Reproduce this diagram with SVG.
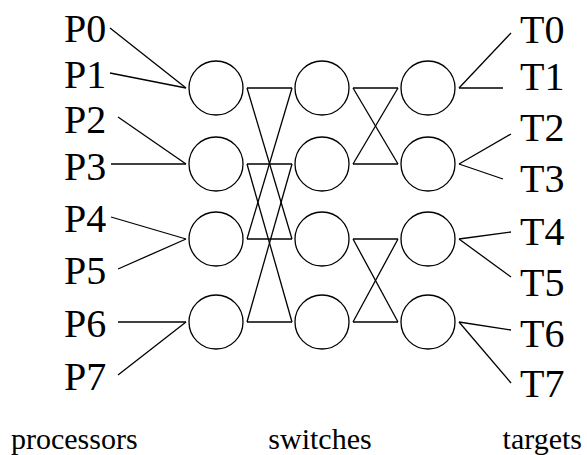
<svg xmlns="http://www.w3.org/2000/svg" width="587" height="455" viewBox="0 0 587 455">
  <style>
    .sw { fill: none; stroke: #000; stroke-width: 1.3; }
    .ln { fill: none; stroke: #000; stroke-width: 1.3; }
  </style>
  <rect width="587" height="455" fill="#fff"/>

  <!-- labels share one serif face -->
  <g font-family="'Liberation Serif', 'Nimbus Roman', 'Noto Serif', 'FreeSerif', 'DejaVu Serif', Times, serif" fill="#000">
    <!-- processor labels -->
    <g id="p0" font-size="40"><text x="64" y="42">P0</text></g>
    <g id="p1" font-size="40"><text x="64" y="88">P1</text></g>
    <g id="p2" font-size="40"><text x="64" y="133">P2</text></g>
    <g id="p3" font-size="40"><text x="64" y="180">P3</text></g>
    <g id="p4" font-size="40"><text x="64" y="232">P4</text></g>
    <g id="p5" font-size="40"><text x="64" y="284">P5</text></g>
    <g id="p6" font-size="40"><text x="64" y="337">P6</text></g>
    <g id="p7" font-size="40"><text x="64" y="390">P7</text></g>

    <!-- target labels -->
    <g id="t0" font-size="40"><text x="520" y="43">T0</text></g>
    <g id="t1" font-size="40"><text x="520" y="90">T1</text></g>
    <g id="t2" font-size="40"><text x="520" y="141">T2</text></g>
    <g id="t3" font-size="40"><text x="520" y="192">T3</text></g>
    <g id="t4" font-size="40"><text x="520" y="245">T4</text></g>
    <g id="t5" font-size="40"><text x="520" y="296">T5</text></g>
    <g id="t6" font-size="40"><text x="520" y="347">T6</text></g>
    <g id="t7" font-size="40"><text x="520" y="397">T7</text></g>

    <!-- column captions -->
    <g font-size="30">
      <text x="11" y="449">processors</text>
      <text x="320" y="449" text-anchor="middle">switches</text>
      <text x="582" y="449" text-anchor="end">targets</text>
    </g>
  </g>

  <!-- switch stages -->
  <g id="s00"><circle class="sw" cx="216" cy="88" r="27"/></g>
  <g id="s01"><circle class="sw" cx="216" cy="164" r="27"/></g>
  <g id="s02"><circle class="sw" cx="216" cy="239" r="27"/></g>
  <g id="s03"><circle class="sw" cx="216" cy="322" r="27"/></g>
  <g id="s10"><circle class="sw" cx="322" cy="88" r="27"/></g>
  <g id="s11"><circle class="sw" cx="322" cy="164" r="27"/></g>
  <g id="s12"><circle class="sw" cx="322" cy="239" r="27"/></g>
  <g id="s13"><circle class="sw" cx="322" cy="322" r="27"/></g>
  <g id="s20"><circle class="sw" cx="428" cy="88" r="27"/></g>
  <g id="s21"><circle class="sw" cx="428" cy="164" r="27"/></g>
  <g id="s22"><circle class="sw" cx="428" cy="239" r="27"/></g>
  <g id="s23"><circle class="sw" cx="428" cy="322" r="27"/></g>

  <!-- connectors -->
  <g id="connectors" class="ln">
    <!-- processors to first stage -->
    <line x1="110" y1="28" x2="186" y2="88"/>
    <line x1="110" y1="73" x2="186" y2="88"/>
    <line x1="118" y1="117" x2="186" y2="164"/>
    <line x1="111" y1="164" x2="186" y2="164"/>
    <line x1="111" y1="217" x2="186" y2="239"/>
    <line x1="118" y1="269" x2="186" y2="239"/>
    <line x1="118" y1="322" x2="186" y2="322"/>
    <line x1="118" y1="375" x2="186" y2="322"/>

    <!-- stage 1 to stage 2 -->
    <line x1="247" y1="88" x2="292" y2="88"/>
    <line x1="247" y1="88" x2="292" y2="239"/>
    <line x1="247" y1="239" x2="292" y2="88"/>
    <line x1="247" y1="239" x2="292" y2="239"/>
    <line x1="247" y1="164" x2="292" y2="164"/>
    <line x1="247" y1="164" x2="292" y2="322"/>
    <line x1="247" y1="322" x2="292" y2="164"/>
    <line x1="247" y1="322" x2="292" y2="322"/>

    <!-- stage 2 to stage 3 -->
    <line x1="353" y1="88" x2="398" y2="88"/>
    <line x1="353" y1="88" x2="398" y2="164"/>
    <line x1="353" y1="164" x2="398" y2="88"/>
    <line x1="353" y1="164" x2="398" y2="164"/>
    <line x1="353" y1="239" x2="398" y2="239"/>
    <line x1="353" y1="239" x2="398" y2="322"/>
    <line x1="353" y1="322" x2="398" y2="239"/>
    <line x1="353" y1="322" x2="398" y2="322"/>

    <!-- last stage to targets -->
    <line x1="459" y1="88" x2="511" y2="33"/>
    <line x1="459" y1="88" x2="503" y2="88"/>
    <line x1="459" y1="164" x2="511" y2="134"/>
    <line x1="459" y1="164" x2="503" y2="179"/>
    <line x1="459" y1="239" x2="511" y2="232"/>
    <line x1="459" y1="239" x2="511" y2="277"/>
    <line x1="459" y1="322" x2="511" y2="330"/>
    <line x1="459" y1="322" x2="511" y2="383"/>
  </g>
</svg>
